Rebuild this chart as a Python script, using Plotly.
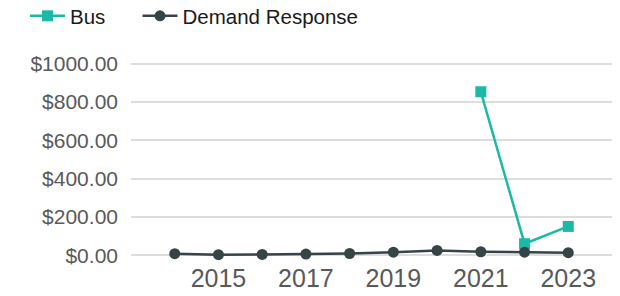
import plotly.graph_objects as go

years = [2014, 2015, 2016, 2017, 2018, 2019, 2020, 2021, 2022, 2023]
bus_years = [2021, 2022, 2023]
bus_values = [853, 61, 151]
dr_values = [9, 4, 5, 7, 10, 17, 26, 19, 17, 14]
x_ticks = [2015, 2017, 2019, 2021, 2023]
y_ticks = [0, 200, 400, 600, 800, 1000]
y_tick_labels = ["$0.00", "$200.00", "$400.00", "$600.00", "$800.00", "$1000.00"]

BUS_COLOR = "#1cb9a7"
DR_COLOR = "#354447"
FONT = "Liberation Sans, Arial, sans-serif"

fig = go.Figure()
fig.add_trace(go.Scatter(
    x=bus_years, y=bus_values, name="Bus", mode="lines+markers",
    line=dict(color=BUS_COLOR, width=2.5),
    marker=dict(symbol="square", size=11, color=BUS_COLOR),
    cliponaxis=False, legend="legend",
))
fig.add_trace(go.Scatter(
    x=years, y=dr_values, name="Demand Response", mode="lines+markers",
    line=dict(color=DR_COLOR, width=2.5),
    marker=dict(symbol="circle", size=11, color=DR_COLOR),
    cliponaxis=False, legend="legend2",
))

legend_common = dict(
    orientation="h", xref="container", yref="container",
    y=1 - 16 / 296, xanchor="left", yanchor="middle",
    font=dict(size=20.5, color="#1a1a1a", family=FONT),
    itemwidth=35, bgcolor="rgba(0,0,0,0)",
)

fig.update_layout(
    width=620, height=296,
    margin=dict(l=131, r=8, t=54, b=31, autoexpand=False),
    paper_bgcolor="white", plot_bgcolor="white",
    font=dict(family=FONT, size=20.5, color="#1a1a1a"),
    showlegend=True,
    legend=dict(x=25 / 620, **legend_common),
    legend2=dict(x=137.5 / 620, **legend_common),
    xaxis=dict(
        range=[2013, 2024], tickvals=x_ticks, ticktext=[str(v) for v in x_ticks],
        showgrid=False, zeroline=False, showline=False,
        tickfont=dict(size=25, color="#595959", family=FONT),
        ticks="", automargin=False,
        anchor="free", position=0.02,
    ),
    yaxis=dict(
        range=[-50, 1050], tickvals=y_ticks, ticktext=y_tick_labels,
        showgrid=True, gridcolor="#dddddd", gridwidth=2,
        zeroline=False, showline=False,
        tickfont=dict(size=21, color="#595959", family=FONT),
        ticks="", ticklabelstandoff=12, automargin=False,
    ),
)

fig.write_html(
    "out.html",
    config={"displayModeBar": False},
    post_script="document.body.style.margin='0';",
)
